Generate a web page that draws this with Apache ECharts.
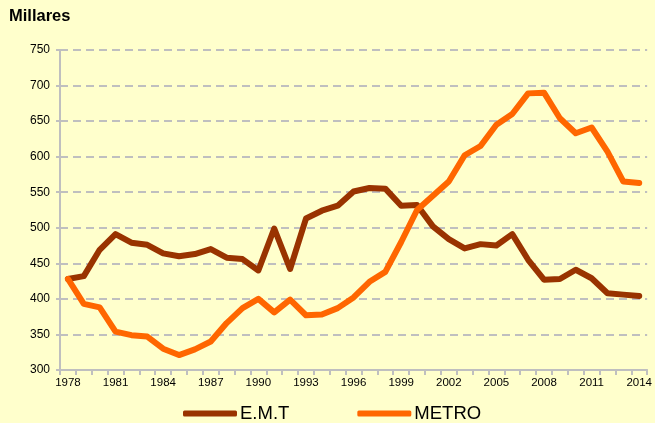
<!DOCTYPE html>
<html>
<head>
<meta charset="utf-8">
<script src="https://cdn.jsdelivr.net/npm/echarts@6/dist/echarts.min.js"></script>
<style>
  html, body { margin: 0; padding: 0; background: #FFFFCC; }
  #chart { width: 655px; height: 423px; }
</style>
</head>
<body>
<div id="chart"></div>
<script>
const years = ['1978', '1979', '1980', '1981', '1982', '1983', '1984', '1985', '1986', '1987',
  '1988', '1989', '1990', '1991', '1992', '1993', '1994', '1995', '1996', '1997',
  '1998', '1999', '2000', '2001', '2002', '2003', '2004', '2005', '2006', '2007',
  '2008', '2009', '2010', '2011', '2012', '2013', '2014']

const emt = [428, 432, 469, 491, 479, 476, 464, 460, 463, 470,
  458, 456, 440, 499, 442, 513, 524, 531, 551, 556,
  555, 531, 532, 502, 484, 471, 477, 475, 491, 455,
  427, 428, 441, 429, 408, 406, 404]

const metro = [428, 393, 388, 354, 349, 347, 330, 321, 329, 340,
  366, 387, 400, 381, 399, 377, 378, 387, 402, 424,
  438, 480, 525, 545, 565, 602, 615, 645, 660, 689,
  690, 654, 633, 641, 607, 565, 563]

let chart = echarts.init(document.getElementById('chart'))
chart.setOption({
  backgroundColor: '#FFFFCC',
  animation: false,
  title: {
    text: 'Millares',
    left: 4,
    top: 3,
    textStyle: { fontFamily: 'Liberation Sans', fontSize: 16.5, fontWeight: 'bold', color: '#000' }
  },
  legend: {
    top: 399,
    left: 178,
    itemGap: 68,
    itemWidth: 54,
    itemHeight: 6,
    icon: 'roundRect',
    textStyle: { fontFamily: 'Liberation Sans', fontSize: 18.5, color: '#000', padding: [0, 0, 0, -2] },
    data: ['E.M.T', 'METRO']
  },
  grid: { left: 60, right: 7, top: 50, bottom: 53 },
  xAxis: {
    type: 'category',
    data: years,
    boundaryGap: true,
    axisLine: { lineStyle: { color: '#BFBFBF', width: 2 } },
    axisTick: { show: true, interval: 0, length: 5, lineStyle: { color: '#BFBFBF', width: 2 } },
    axisLabel: { interval: 2, color: '#000', fontFamily: 'Liberation Sans', fontSize: 11.5, margin: 7 }
  },
  yAxis: {
    type: 'value',
    min: 300,
    max: 750,
    interval: 50,
    axisLine: { show: true, lineStyle: { color: '#BFBFBF', width: 2 } },
    axisTick: { show: true, length: 4, lineStyle: { color: '#BFBFBF', width: 2 } },
    axisLabel: { color: '#000', fontFamily: 'Liberation Sans', fontSize: 12, margin: 10 },
    splitLine: { lineStyle: { color: '#BFBFBF', width: 2, type: [8, 5] } }
  },
  series: [
    {
      name: 'E.M.T',
      type: 'line',
      data: emt,
      symbol: 'none',
      color: '#993300',
      lineStyle: { width: 6, color: '#993300', join: 'round', cap: 'round' }
    },
    {
      name: 'METRO',
      type: 'line',
      data: metro,
      symbol: 'none',
      color: '#FF6600',
      lineStyle: { width: 6, color: '#FF6600', join: 'round', cap: 'round' }
    }
  ]
})
</script>
</body>
</html>
